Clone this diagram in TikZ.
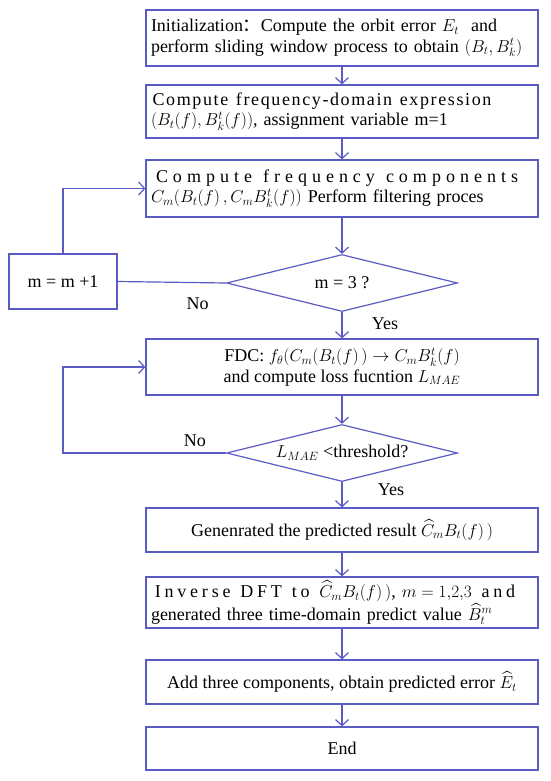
\documentclass[tikz,border=0pt]{standalone}
\usepackage{amsmath}
\usepackage{amssymb}
\usepackage{fontspec}
\setmainfont{Liberation Serif}
\newfontfamily\cjkfont{Noto Sans CJK SC}
\usepackage{tikz}
\usetikzlibrary{arrows.meta,shapes.geometric}
\definecolor{flowblue}{RGB}{90,92,196}
\newcommand{\Chat}{\widehat{C}}
% letters of each word spread out with \hfil, words keep a normal space too
\ExplSyntaxOn
\NewDocumentCommand{\spreadletters}{m}
  {
    \seq_set_split:Nnn \l_tmpa_seq { ~ } {#1}
    \seq_map_indexed_inline:Nn \l_tmpa_seq
      {
        \int_compare:nNnT {##1} > {1} { \nobreakspace \hfil }
        \bool_set_true:N \l_tmpa_bool
        \tl_map_inline:nn {##2}
          {
            \bool_if:NF \l_tmpa_bool { \hfil }
            \bool_set_false:N \l_tmpa_bool
            ####1
          }
      }
  }
\ExplSyntaxOff

\begin{document}
\begin{tikzpicture}[x=1pt,y=-1pt,font=\fontsize{18}{20.5}\selectfont,
    box/.style={draw=flowblue,line width=1.2pt,minimum width=392pt,inner xsep=5pt,inner ysep=2pt},
    decision/.style={draw=flowblue,line width=1.2pt,diamond,aspect=4,inner sep=0pt,minimum width=231pt,minimum height=57pt},
    arr/.style={draw=flowblue,line width=1.2pt,-{Straight Barb[length=6pt,width=13pt]}},
    link/.style={draw=flowblue,line width=1.2pt}]
    \useasboundingbox (0,0) rectangle (550,781);

    \node[box,minimum height=56pt,text width=382pt,align=left] (init) at (342,38)
        {Initialization{\cjkfont ：}Compute the orbit error $E_t$ \ and\\perform sliding window process to obtain $(B_t, B_k^t)$};
    \node[box,minimum height=53pt,text width=382pt,align=left] (freq) at (342,111.5)
        {\makebox[342pt]{\spreadletters{Compute frequency-domain expression}}\\$(B_t(f), B_k^t(f))$, assignment variable m=1};
    \node[box,minimum height=57pt,text width=382pt,align=left] (comp) at (342,188.5)
        {\makebox[372pt]{\spreadletters{Compute frequency components}}\\$C_m(B_t(f)\,,C_mB_k^t(f))$ Perform filtering proces};
    \node[decision] (dm) at (342,283) {m = 3 ?};
    \node[draw=flowblue,line width=1.2pt,minimum width=108pt,minimum height=55pt] (mbox) at (63,281.5) {m = m +1};
    \node[box,minimum height=56pt,align=center] (fdc) at (342,367)
        {FDC: $f_\theta(C_m(B_t(f)\,) \rightarrow C_mB_k^t(f)$\\and compute loss fucntion $L_{MAE}$};
    \node[decision] (dl) at (342,453) {$L_{MAE}$ <threshold?};
    \node[box,minimum height=44pt] (gen) at (342,530)
        {Genenrated the predicted result $\Chat_mB_t(f)\,)$};
    \node[box,minimum height=51pt,text width=382pt,align=left] (inv) at (342,602.5)
        {\makebox[368pt]{\spreadletters{Inverse DFT to}\hfil\ \mbox{$\Chat_mB_t(f)\,)$, $m = 1{,}2{,}3$}\ \hfil\spreadletters{and}}\\generated three time-domain predict value $\widehat{B}_t^m$};
    \node[box,minimum height=44pt] (add) at (342,682)
        {Add three components, obtain predicted error $\widehat{E}_t$};
    \node[box,minimum height=43pt] (stop) at (342,748.5) {End};

    \draw[arr] (init) -- (freq);
    \draw[arr] (freq) -- (comp);
    \draw[arr] (comp) -- (dm);
    \draw[link] (dm.west) -- node[below=11pt,pos=0.26] {No} (mbox.east);
    \draw[arr] (mbox.north) |- (comp.west);
    \draw[arr] (dm) -- node[anchor=west,xshift=26pt,pos=0.45] {Yes} (fdc);
    \draw[arr] (fdc) -- (dl);
    \draw[arr] (dl.west) -- node[above=2pt,pos=0.19] {No} (dl.west -| mbox.north) |- (fdc.west);
    \draw[arr] (dl) -- node[anchor=west,xshift=32pt,pos=0.3] {Yes} (gen);
    \draw[arr] (gen) -- (inv);
    \draw[arr] (inv) -- (add);
    \draw[arr] (add) -- (stop);
\end{tikzpicture}
\end{document}
